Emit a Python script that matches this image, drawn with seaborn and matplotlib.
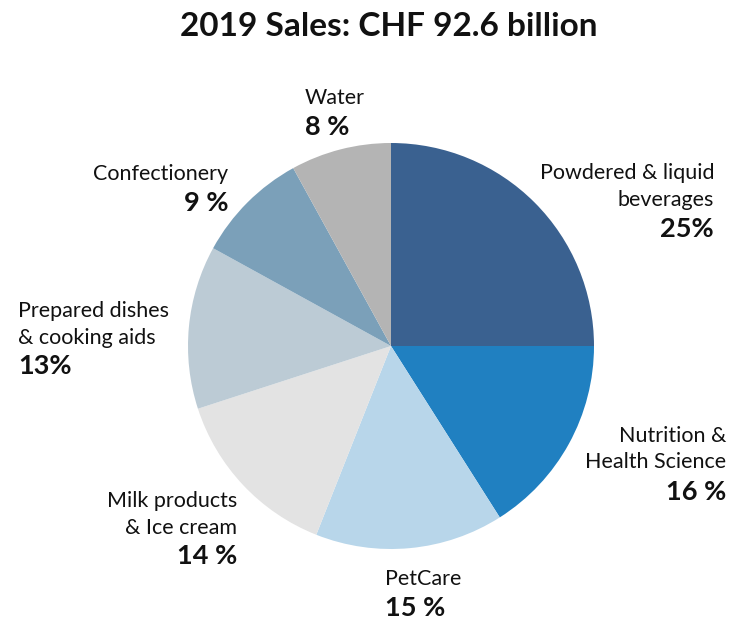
import matplotlib
matplotlib.use("Agg")
import matplotlib.pyplot as plt
import seaborn as sns

# data
categories = [
    "Powdered & liquid\nbeverages",
    "Nutrition &\nHealth Science",
    "PetCare",
    "Milk products\n& Ice cream",
    "Prepared dishes\n& cooking aids",
    "Confectionery",
    "Water",
]
shares = [25, 16, 15, 14, 13, 9, 8]
pct_labels = ["25%", "16 %", "15 %", "14 %", "13%", "9 %", "8 %"]
colors = ["#3A6190", "#2080C1", "#B8D6EA", "#E3E3E3", "#BCCBD5", "#7BA0B9", "#B4B4B4"]
title = "2019 Sales: CHF 92.6 billion"

# label anchors in figure pixels (x, centre y of first line, alignment)
label_layout = [
    (714, 173, "right"),
    (726, 436, "right"),
    (385, 579, "left"),
    (237, 501, "right"),
    (18, 311, "left"),
    (228, 174, "right"),
    (305, 98, "left"),
]

W, H = 744, 628
sns.set_theme(style="white")
plt.rcParams["font.family"] = ["Lato", "DejaVu Sans"]

fig = plt.figure(figsize=(W / 100, H / 100), dpi=100)
cx, cy, r = 391, 346, 203
ax = fig.add_axes([(cx - r) / W, (H - cy - r) / H, 2 * r / W, 2 * r / H])
ax.pie(shares, colors=colors, startangle=90, counterclock=False,
       wedgeprops=dict(linewidth=0))
ax.set_xlim(-1, 1)
ax.set_ylim(-1, 1)
ax.set_aspect("equal")
ax.axis("off")

fig.text(389 / W, 1 - 26 / H, title, ha="center", va="center",
         fontsize=24, fontweight="bold", color="#111111")

line_h = 26.5
for cat, pct, (x, y, ha) in zip(categories, pct_labels, label_layout):
    lines = cat.split("\n")
    for i, line in enumerate(lines):
        fig.text(x / W, 1 - (y + i * line_h) / H, line, ha=ha, va="center",
                 fontsize=15.5, color="#111111")
    fig.text(x / W, 1 - (y + (len(lines) - 1) * line_h + 29) / H, pct, ha=ha,
             va="center", fontsize=19.5, fontweight="bold", color="#111111")

fig.savefig("out.png", dpi=100, facecolor="white")
